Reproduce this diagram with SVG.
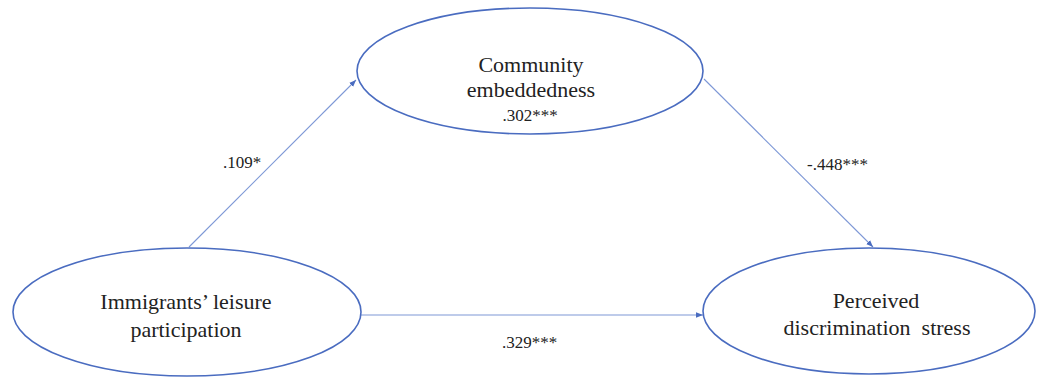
<svg xmlns="http://www.w3.org/2000/svg" width="1037" height="379" viewBox="0 0 1037 379">
<defs>
<marker id="ah" viewBox="0 0 10 10" refX="10" refY="5" markerWidth="7" markerHeight="7" markerUnits="userSpaceOnUse" orient="auto">
<path d="M0,1 L10,5 L0,9 z" fill="#4a6cc0"/>
</marker>
</defs>
<style>
.node ellipse{fill:#fff;stroke:#4a6cc0;stroke-width:1.6}
text{font-family:'Liberation Serif','DejaVu Serif','Times New Roman',serif;fill:#222}
.nt{font-size:22px;text-anchor:middle}
.lbl{font-size:17px}
.edge{stroke:#7e98d6;stroke-width:1.1;fill:none;marker-end:url(#ah)}
</style>
<rect width="1037" height="379" fill="#fff"/>
<g id="connectors">
<line class="edge" x1="189" y1="247" x2="356" y2="80"/>
<line class="edge" x1="704" y1="79" x2="873" y2="247"/>
<line class="edge" x1="360" y1="315" x2="703" y2="315"/>
<text class="lbl" x="223" y="168">.109*</text>
<text class="lbl" x="807" y="170">-.448***</text>
<text class="lbl" x="502" y="348">.329***</text>
</g>
<g id="community" class="node">
<ellipse cx="530" cy="71" rx="173" ry="63"/>
<text class="nt" x="531" y="72">Community</text>
<text class="nt" x="531" y="97">embeddedness</text>
<text class="lbl" x="530" y="121" text-anchor="middle">.302***</text>
</g>
<g id="leisure" class="node">
<ellipse cx="187" cy="312" rx="174" ry="64"/>
<text class="nt" x="186" y="309">Immigrants’ leisure</text>
<text class="nt" x="186" y="337">participation</text>
</g>
<g id="stress" class="node">
<ellipse cx="869" cy="311" rx="166" ry="63"/>
<text class="nt" x="876" y="308">Perceived</text>
<text class="nt" x="877" y="335" xml:space="preserve">discrimination  stress</text>
</g>
</svg>
